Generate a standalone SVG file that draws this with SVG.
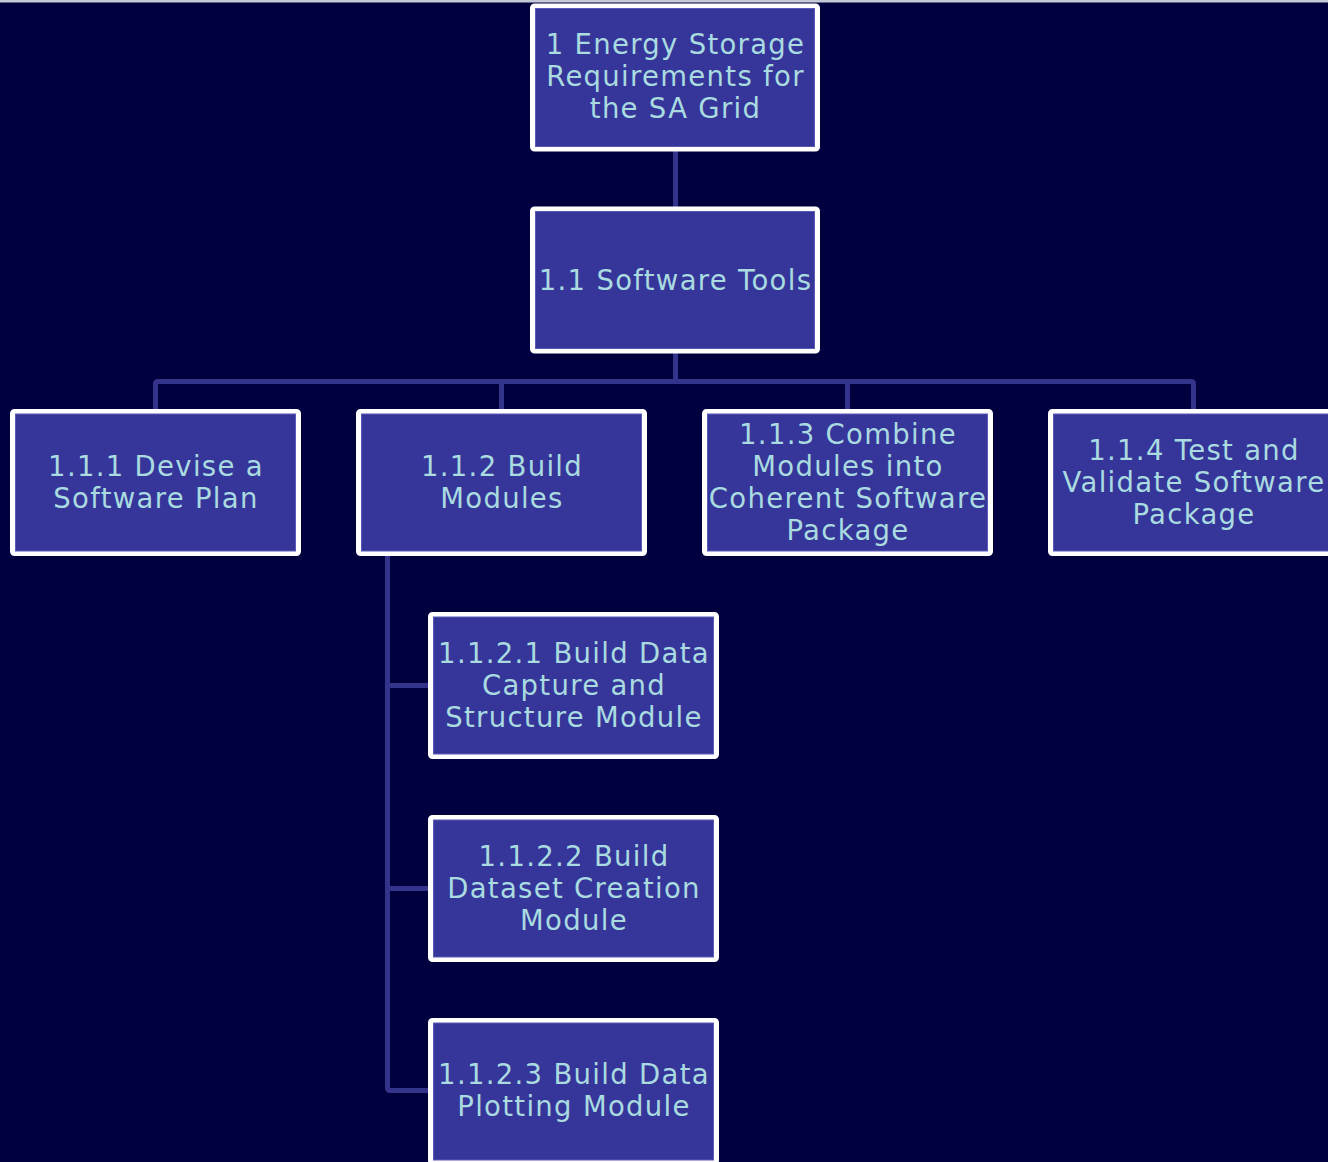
<svg xmlns="http://www.w3.org/2000/svg" width="1328" height="1162" viewBox="0 0 1328 1162">
<style>
.bg{fill:#00003f}
.box rect.o{fill:#36369a;stroke:#ffffff;stroke-width:5}
.box rect.i{fill:none;stroke:#5a5ab8;stroke-width:1}
.box text{font-family:"DejaVu Sans",Verdana,sans-serif;font-size:27.5px;letter-spacing:1.3px;fill:#a9dbe0;text-anchor:middle}
.conn path{fill:none;stroke:#33338c;stroke-width:5;stroke-linejoin:round}
</style>
<rect class="bg" x="0" y="0" width="1328" height="1162"/>
<rect x="0" y="0" width="1328" height="2.5" fill="#c4cad8"/>
<g class="conn">
<path d="M675.5 151 V207"/>
<path d="M675.5 353 V381.5"/>
<path d="M155.5 409 V384 Q155.5 381.5 158 381.5 H1191 Q1193.5 381.5 1193.5 384 V409"/>
<path d="M501.5 381.5 V409"/>
<path d="M847.5 381.5 V409"/>
<path d="M387.5 556 V1088 Q387.5 1090.5 390 1090.5 H428"/>
<path d="M387.5 685.5 H428"/>
<path d="M387.5 888.5 H428"/>
</g>
<g id="n1" class="box"><rect class="o" x="532.5" y="6" width="285" height="143" rx="2"/><rect class="i" x="535.5" y="8.5" width="279" height="138"/><text x="675.5" y="54">1 Energy Storage</text><text x="675.5" y="86">Requirements for</text><text x="675.5" y="118">the SA Grid</text></g>
<g id="n1_1" class="box"><rect class="o" x="532.5" y="209" width="285" height="142" rx="2"/><rect class="i" x="535.5" y="211.5" width="279" height="137"/><text x="675.5" y="290">1.1 Software Tools</text></g>
<g id="n1_1_1" class="box"><rect class="o" x="12.5" y="411.5" width="286" height="142" rx="2"/><rect class="i" x="15.5" y="414" width="280" height="137"/><text x="156" y="476">1.1.1 Devise a</text><text x="156" y="508">Software Plan</text></g>
<g id="n1_1_2" class="box"><rect class="o" x="358.5" y="411.5" width="286" height="142" rx="2"/><rect class="i" x="361.5" y="414" width="280" height="137"/><text x="502" y="476">1.1.2 Build</text><text x="502" y="508">Modules</text></g>
<g id="n1_1_3" class="box"><rect class="o" x="704.5" y="411.5" width="286" height="142" rx="2"/><rect class="i" x="707.5" y="414" width="280" height="137"/><text x="848" y="444">1.1.3 Combine</text><text x="848" y="476">Modules into</text><text x="848" y="508">Coherent Software</text><text x="848" y="540">Package</text></g>
<g id="n1_1_4" class="box"><rect class="o" x="1050.5" y="411.5" width="286" height="142" rx="2"/><rect class="i" x="1053.5" y="414" width="280" height="137"/><text x="1194" y="460">1.1.4 Test and</text><text x="1194" y="492">Validate Software</text><text x="1194" y="524">Package</text></g>
<g id="n1_1_2_1" class="box"><rect class="o" x="430.5" y="614.5" width="286" height="142" rx="2"/><rect class="i" x="433.5" y="617" width="280" height="137"/><text x="574" y="663">1.1.2.1 Build Data</text><text x="574" y="695">Capture and</text><text x="574" y="727">Structure Module</text></g>
<g id="n1_1_2_2" class="box"><rect class="o" x="430.5" y="817.5" width="286" height="142" rx="2"/><rect class="i" x="433.5" y="820" width="280" height="137"/><text x="574" y="866">1.1.2.2 Build</text><text x="574" y="898">Dataset Creation</text><text x="574" y="930">Module</text></g>
<g id="n1_1_2_3" class="box"><rect class="o" x="430.5" y="1020.5" width="286" height="142" rx="2"/><rect class="i" x="433.5" y="1023" width="280" height="137"/><text x="574" y="1084">1.1.2.3 Build Data</text><text x="574" y="1116">Plotting Module</text></g>
</svg>
